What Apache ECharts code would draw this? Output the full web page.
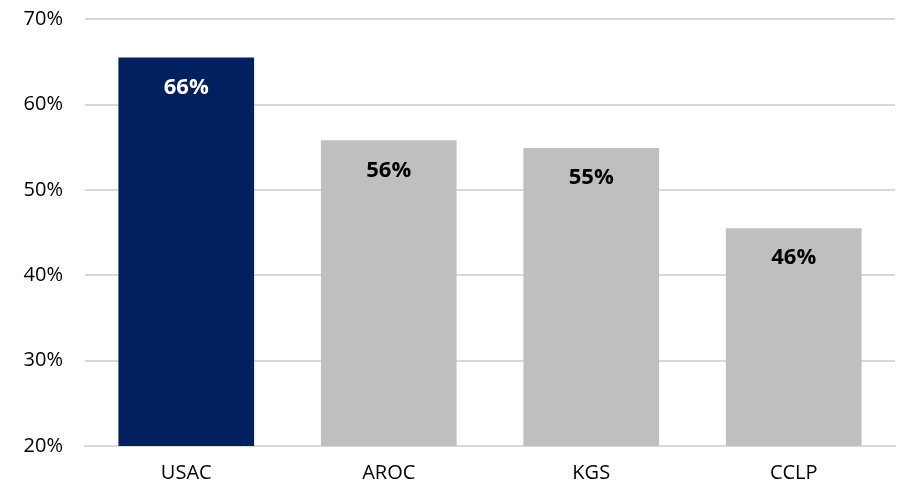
<!DOCTYPE html>
<html><head><meta charset="utf-8">
<script src="https://cdn.jsdelivr.net/npm/echarts@6/dist/echarts.min.js"></script>
<style>html,body{margin:0;padding:0;background:#fff}#c{width:905px;height:490px}</style>
</head><body><div id="c"></div>
<script>
const categories = ['USAC', 'AROC', 'KGS', 'CCLP'];
const values = [65.5, 55.8, 54.9, 45.5];
const barColors = ['#002060', '#bfbfbf', '#bfbfbf', '#bfbfbf'];
const labelColors = ['#ffffff', '#000000', '#000000', '#000000'];
const yTicks = [20, 30, 40, 50, 60, 70];

const chart = echarts.init(document.getElementById('c'));
const font = '"Open Sans", "Liberation Sans", sans-serif';
chart.setOption({
  animation: false,
  grid: { left: 85, right: 10, top: 19, bottom: 44 },
  xAxis: {
    type: 'category', data: categories,
    axisLine: { show: true, lineStyle: { color: '#d9d9d9', width: 2 } },
    axisTick: { show: false },
    axisLabel: { color: '#000', fontSize: 20, fontFamily: font, margin: 17 }
  },
  yAxis: {
    type: 'value', min: yTicks[0], max: yTicks[yTicks.length - 1], interval: 10,
    axisLine: { show: false }, axisTick: { show: false },
    splitLine: { lineStyle: { color: '#d9d9d9', width: 2 } },
    axisLabel: { color: '#000', fontSize: 20, fontFamily: font, margin: 22, formatter: v => v + '%' }
  },
  series: [{
    type: 'bar', barWidth: '67%',
    data: values.map((v, i) => ({
      value: v,
      itemStyle: { color: barColors[i] },
      label: { color: labelColors[i] }
    })),
    label: {
      show: true, position: 'insideTop', distance: 19,
      fontSize: 22, fontWeight: 'bold', fontFamily: font,
      formatter: p => Math.round(p.value) + '%'
    }
  }]
});
</script></body></html>
